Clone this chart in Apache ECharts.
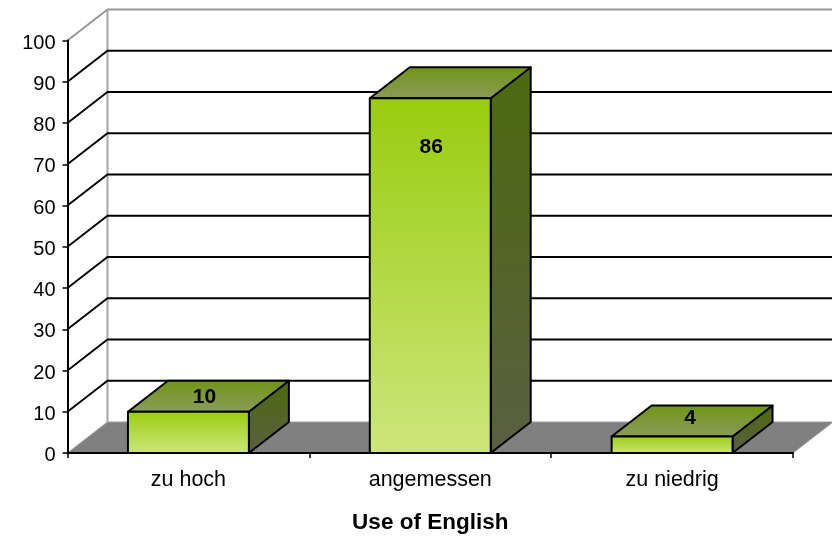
<!DOCTYPE html>
<html>
<head>
<meta charset="utf-8">
<style>html,body{margin:0;padding:0;background:#fff}#c{width:832px;height:536px}</style>
<script src="https://cdn.jsdelivr.net/npm/echarts@6/dist/echarts.min.js"></script>
</head>
<body>
<div id="c"></div>
<script>
const categories = ['zu hoch', 'angemessen', 'zu niedrig'];
const values = [10, 86, 4];
const yTicks = [0, 10, 20, 30, 40, 50, 60, 70, 80, 90, 100];
const xAxisTitle = 'Use of English';

const DX = 40, DY = -31;
const FONT = '"Liberation Sans", Arial, sans-serif';
const LABEL_SHIFT = [[16, -15], [1, 49], [18, -18]];
const grad = (top, bottom) => ({type: 'linear', x: 0, y: 0, x2: 0, y2: 1,
  colorStops: [{offset: 0, color: top}, {offset: 1, color: bottom}]});

function renderFloor(params, api) {
  const cs = params.coordSys;
  const y0 = api.coord([0, 0])[1];
  const yTop = api.coord([0, 100])[1];
  const L = cs.x, R = cs.x + cs.width;
  return {type: 'group', children: [
    {type: 'polygon', shape: {points: [[L, y0], [L + DX, y0 + DY], [R + DX, y0 + DY], [R, y0]]},
      style: {fill: '#808080', stroke: '#9a9a9a', lineWidth: 1}},
    {type: 'polyline', shape: {points: [[L, yTop], [L + DX, yTop + DY], [R + DX, yTop + DY]]},
      style: {fill: 'none', stroke: '#999999', lineWidth: 2}},
    {type: 'line', shape: {x1: L + DX, y1: yTop + DY, x2: L + DX, y2: y0 + DY},
      style: {stroke: '#a6a6a6', lineWidth: 2}}
  ]};
}
function renderGrid(params, api) {
  const v = api.value(0);
  const cs = params.coordSys;
  const y = api.coord([0, v])[1];
  const L = cs.x, R = cs.x + cs.width;
  return {type: 'polyline', shape: {points: [[L, y], [L + DX, y + DY], [R + DX, y + DY]]},
    style: {fill: 'none', stroke: '#000', lineWidth: 1.8}};
}
function renderBar(params, api) {
  const cat = api.value(0), v = api.value(1);
  const top = api.coord([cat, v]), base = api.coord([cat, 0]);
  const w = api.size([1, 0])[0] / 2;
  const x0 = top[0] - w / 2, x1 = top[0] + w / 2, yt = top[1], yb = base[1];
  const s = {stroke: '#000', lineWidth: 2, lineJoin: 'round'};
  const sh = LABEL_SHIFT[params.dataIndex];
  return {type: 'group', children: [
    {type: 'polygon', shape: {points: [[x1, yt], [x1 + DX, yt + DY], [x1 + DX, yb + DY], [x1, yb]]},
      style: Object.assign({fill: grad('#4c6a0e', '#5a5f42')}, s)},
    {type: 'polygon', shape: {points: [[x0, yt], [x0 + DX, yt + DY], [x1 + DX, yt + DY], [x1, yt]]},
      style: Object.assign({fill: grad('#6f9512', '#8b9b5e')}, s)},
    {type: 'rect', shape: {x: x0, y: yt, width: x1 - x0, height: yb - yt},
      style: Object.assign({fill: grad('#99cc0f', '#cde67c')}, s)},
    {type: 'text', x: top[0] + sh[0], y: yt + sh[1],
      style: {text: String(v), fill: '#000', font: 'bold 21px ' + FONT, align: 'center', verticalAlign: 'middle'}}
  ]};
}

const chart = echarts.init(document.getElementById('c'), null, {renderer: 'canvas'});
chart.setOption({
  animation: false,
  backgroundColor: '#fff',
  grid: {left: 67.5, right: 39, top: 40.5, bottom: 83, outerBoundsMode: 'none'},
  xAxis: {
    type: 'category', data: categories, z: 5,
    axisLine: {lineStyle: {color: '#000', width: 2}},
    axisTick: {show: true, length: 5, lineStyle: {color: '#000', width: 1.5}},
    axisLabel: {color: '#000', fontSize: 21.5, fontFamily: FONT, margin: 16},
    name: xAxisTitle, nameLocation: 'middle', nameGap: 58,
    nameTextStyle: {color: '#000', fontSize: 22.5, fontWeight: 'bold', fontFamily: FONT}
  },
  yAxis: {
    type: 'value', min: 0, max: 100, interval: 10, z: 5,
    axisLine: {show: true, lineStyle: {color: '#000', width: 2}},
    axisTick: {show: true, length: 5, lineStyle: {color: '#000', width: 1.5}},
    axisLabel: {color: '#000', fontSize: 20, fontFamily: FONT, margin: 12, verticalAlign: 'top', lineHeight: 5},
    splitLine: {show: false}
  },
  series: [
    {type: 'custom', z: 1, silent: true, renderItem: renderFloor, data: [0], encode: {x: -1, y: -1}},
    {type: 'custom', z: 1, silent: true, renderItem: renderGrid,
      data: yTicks.filter(t => t > 0 && t < 100).map(t => [t]), encode: {y: 0}},
    {type: 'custom', z: 2, renderItem: renderBar,
      data: values.map((v, i) => [i, v]), encode: {x: 0, y: 1}}
  ]
});
</script>
</body>
</html>
